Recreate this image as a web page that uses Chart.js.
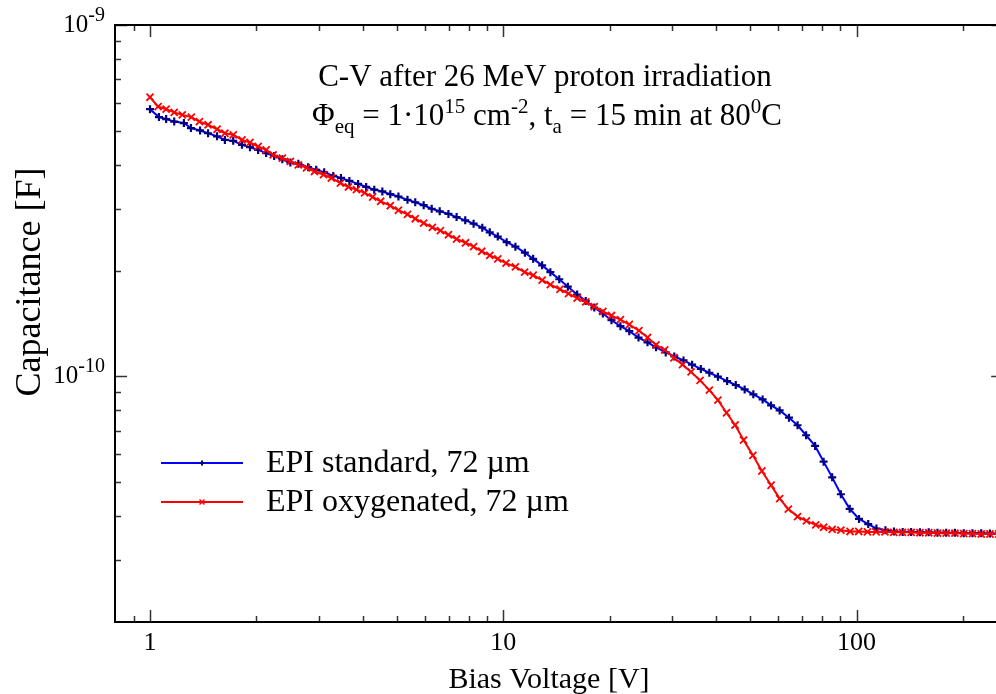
<!DOCTYPE html>
<html>
<head>
<meta charset="utf-8">
<script src="https://cdn.jsdelivr.net/npm/chart.js@4.4.1/dist/chart.umd.min.js"></script>
<style>
  html, body { margin: 0; padding: 0; overflow: hidden; background: #fff; }
  canvas { display: block; }
</style>
</head>
<body>
<canvas id="cvChart" width="1010" height="694"></canvas>
<script>
// bias voltage [V] and capacitance [pF]
const stdVoltage = [1.000,1.060,1.111,1.171,1.247,1.306,1.386,1.460,1.548,1.629,
  1.720,1.821,1.919,2.023,2.132,2.246,2.369,2.496,2.630,2.802,
  2.954,3.112,3.302,3.472,3.667,3.882,4.091,4.313,4.546,4.788,
  5.049,5.355,5.633,5.951,6.271,6.607,6.994,7.375,7.804,8.240,
  8.720,9.155,9.647,10.22,10.82,11.51,12.15,12.88,13.59,14.40,
  15.23,16.18,17.11,18.09,19.13,20.24,21.46,22.73,24.14,25.60,
  27.06,28.83,30.48,32.37,34.22,36.23,38.30,40.50,43.01,45.50,
  48.21,51.02,54.19,57.28,60.56,64.35,68.07,71.97,76.30,80.66,
  85.29,90.25,95.6,101.6,107.9,113.8,120.7,127.6,135.0,
  142.7,151.1,160.0,169.4,179.3,189.8,201.0,212.8,225.3,238.5,252.5];
const stdCap = [576,547,540,531,526,509,501,492,482,471,
  468,456,449,441,432,424,415,406,403,394,
  387,381,372,367,360,353,346,340,336,330,
  325,318,313,307,300,295,290,284,278,272,
  265,257,250,241,234,225,216,207,198,189,
  180,171,164,157,151,144.5,139,134.5,129,125,
  121,117,114,111,108,105,102.4,99.8,97.0,94.5,
  91.8,88.9,86.0,82.7,80.0,76.3,72.6,68.0,63.4,57.2,
  51.6,46.2,42.0,39.3,38.0,36.9,36.5,36.2,36.1,
  36.1,36.0,36.0,35.9,35.9,35.9,35.8,35.8,35.8,35.7,35.7];

const oxyVoltage = [1.000,1.054,1.111,1.171,1.234,1.309,1.380,1.460,1.548,1.629,
  1.720,1.821,1.919,2.023,2.132,2.232,2.369,2.496,2.630,2.773,
  2.922,3.098,3.261,3.459,3.645,3.840,4.050,4.267,4.497,4.788,
  5.049,5.355,5.633,5.951,6.298,6.637,6.994,7.375,7.820,8.240,
  8.688,9.155,9.647,10.18,10.82,11.49,12.15,12.88,13.59,14.47,
  15.30,16.18,17.11,18.09,19.13,20.24,21.46,22.73,24.21,25.60,
  27.06,28.63,30.42,32.16,34.00,36.06,38.30,40.50,42.84,45.29,
  47.87,50.88,53.94,57.28,60.56,64.09,68.07,72.11,76.63,80.66,
  85.29,90.25,95.85,101.4,107.3,113.6,120.3,127.4,134.8,142.7,
  151.1,160.0,169.4,179.3,189.8,201.0,212.8,225.3,238.5,252.5];
const oxyCap = [623,586,576,564,555,547,531,520,505,492,
  487,471,463,451,441,427,418,409,400,392,
  383,375,367,355,346,340,333,324,315,306,
  297,289,281,273,265.5,260,253,246,240,234,
  227,221,216,210,205,198,194,188,182.5,177,
  172,167,163,158,153,149,145,140.5,135,129,
  123,119,113,108,103,97.4,91.4,85.6,78.8,72.7,
  65.9,59.6,53.8,49.0,44.9,41.9,39.9,38.8,37.8,37.2,
  36.7,36.5,36.2,36.2,36.1,36.1,36.1,36.0,36.0,36.0,
  35.9,35.9,35.8,35.8,35.8,35.7,35.7,35.6,35.6,35.6];

const seriesNames = ['EPI standard, 72 \u00b5m', 'EPI oxygenated, 72 \u00b5m'];

const xMajorTicks = [1, 10, 100];
const xMinorTicks = [0.9, 2, 3, 4, 5, 6, 7, 8, 9, 20, 30, 40, 50, 60, 70, 80, 90, 200];
const yMajorTicks = [1e-10, 1e-9];
const yMajorLabels = ['-10', '-9'];
const yMinorTicks = [3e-11, 4e-11, 5e-11, 6e-11, 7e-11, 8e-11, 9e-11,
  2e-10, 3e-10, 4e-10, 5e-10, 6e-10, 7e-10, 8e-10, 9e-10];

const SERIF = '"Liberation Serif", "Times New Roman", serif';

function toPoints(vs, cs) {
  return vs.map((v, i) => ({ x: v, y: cs[i] * 1e-12 }));
}

// draws text pieces with sub/superscripts, centred or left/right aligned
function drawRuns(ctx, runs, x, y, align) {
  let total = 0;
  runs.forEach(r => {
    ctx.font = r[1] + 'px ' + SERIF;
    total += ctx.measureText(r[0]).width;
  });
  let cx = align === 'center' ? x - total / 2 : (align === 'right' ? x - total : x);
  ctx.textAlign = 'left';
  ctx.textBaseline = 'alphabetic';
  runs.forEach(r => {
    ctx.font = r[1] + 'px ' + SERIF;
    ctx.fillText(r[0], cx, y + (r[2] || 0));
    cx += ctx.measureText(r[0]).width;
  });
}

function drawMarker(ctx, style, x, y, r, color, w) {
  ctx.strokeStyle = color;
  ctx.lineWidth = w;
  ctx.beginPath();
  if (style === 'cross') {
    ctx.moveTo(x - r, y); ctx.lineTo(x + r, y);
    ctx.moveTo(x, y - r); ctx.lineTo(x, y + r);
  } else {
    ctx.moveTo(x - r, y - r); ctx.lineTo(x + r, y + r);
    ctx.moveTo(x - r, y + r); ctx.lineTo(x + r, y - r);
  }
  ctx.stroke();
}

const framePlugin = {
  id: 'frame',
  afterDraw(chart) {
    const { ctx, chartArea: a, scales } = chart;
    const sx = scales.x, sy = scales.y;
    ctx.save();

    // inward ticks on all four sides
    ctx.strokeStyle = '#333';
    ctx.lineWidth = 1.5;
    const tick = (x1, y1, x2, y2) => { ctx.beginPath(); ctx.moveTo(x1, y1); ctx.lineTo(x2, y2); ctx.stroke(); };
    xMajorTicks.concat(xMinorTicks).forEach(v => {
      const px = Math.round(sx.getPixelForValue(v)) + 0.5;
      const len = xMajorTicks.includes(v) ? 12 : 6;
      tick(px, a.bottom, px, a.bottom - len);
      tick(px, a.top, px, a.top + len);
    });
    yMajorTicks.concat(yMinorTicks).forEach(v => {
      const py = Math.round(sy.getPixelForValue(v)) + 0.5;
      const len = yMajorTicks.includes(v) ? 12 : 6;
      tick(a.left, py, a.left + len, py);
      tick(a.right, py, a.right - len, py);
    });

    // frame
    ctx.strokeStyle = '#000';
    ctx.lineWidth = 2;
    ctx.strokeRect(a.left, a.top, a.right - a.left, a.bottom - a.top);

    ctx.fillStyle = '#000';
    // y tick labels 10^n
    yMajorTicks.forEach((v, i) => {
      const py = sy.getPixelForValue(v);
      drawRuns(ctx, [['10', 25, 0], [yMajorLabels[i], 20, -11]], 105, py + 7, 'right');
    });

    // axis titles
    ctx.font = '30px ' + SERIF;
    ctx.textAlign = 'center';
    ctx.textBaseline = 'alphabetic';
    ctx.fillText('Bias Voltage [V]', 549, 688);
    ctx.save();
    ctx.font = '36px ' + SERIF;
    ctx.translate(40, 282);
    ctx.rotate(-Math.PI / 2);
    ctx.fillText('Capacitance [F]', 0, 0);
    ctx.restore();

    // title inside the plot
    drawRuns(ctx, [['C-V after 26 MeV proton irradiation', 31, 0]], 545, 86, 'center');
    drawRuns(ctx, [
      ['\u03a6', 31, 0], ['eq', 21, 8], [' = 1\u00b710', 31, 0], ['15', 21, -12],
      [' cm', 31, 0], ['-2', 21, -12], [', t', 31, 0], ['a', 21, 8],
      [' = 15 min at 80', 31, 0], ['0', 21, -12], ['C', 31, 0]
    ], 547, 125, 'center');

    // legend
    const legend = [
      { y: 463, line: '#0000ff', mk: '#000080', style: 'cross', w: 2 },
      { y: 502, line: '#ff0000', mk: '#ff0000', style: 'crossRot', w: 1.5 }
    ];
    legend.forEach((l, i) => {
      ctx.strokeStyle = l.line;
      ctx.lineWidth = 1.8;
      tick(161, l.y, 243, l.y);
      drawMarker(ctx, l.style, 202, l.y, 2.5, l.mk, l.w);
      ctx.fillStyle = '#000';
      drawRuns(ctx, [[seriesNames[i], 32, 0]], 266, l.y + 9, 'left');
    });

    ctx.restore();
  }
};

const ctx = document.getElementById('cvChart').getContext('2d');
new Chart(ctx, {
  type: 'line',
  data: {
    datasets: [{
      label: seriesNames[0],
      data: toPoints(stdVoltage, stdCap),
      borderColor: '#0000ff',
      borderWidth: 2,
      pointStyle: 'cross',
      pointRadius: 4,
      pointBorderColor: '#000080',
      pointBorderWidth: 2.2,
      tension: 0,
      order: 1
    }, {
      label: seriesNames[1],
      data: toPoints(oxyVoltage, oxyCap),
      borderColor: '#ff0000',
      borderWidth: 2,
      pointStyle: 'crossRot',
      pointRadius: 5,
      pointBorderColor: '#ff0000',
      pointBorderWidth: 1.8,
      tension: 0,
      order: 0
    }]
  },
  options: {
    responsive: false,
    animation: false,
    layout: { padding: { top: 25, right: 5, left: 0, bottom: 0 } },
    plugins: { legend: { display: false }, tooltip: { enabled: false } },
    scales: {
      x: {
        type: 'logarithmic',
        min: 0.796,
        max: 260,
        grid: { display: false, drawTicks: false },
        border: { display: false },
        afterBuildTicks: s => { s.ticks = xMajorTicks.map(v => ({ value: v })); },
        afterFit: s => { s.height = 72; },
        ticks: {
          autoSkip: false,
          maxRotation: 0,
          padding: 6,
          color: '#000',
          font: { family: SERIF, size: 26 },
          callback: v => String(v)
        }
      },
      y: {
        type: 'logarithmic',
        min: 2e-11,
        max: 1e-9,
        grid: { display: false, drawTicks: false },
        border: { display: false },
        afterFit: s => { s.width = 115; },
        ticks: { display: false }
      }
    }
  },
  plugins: [framePlugin]
});
</script>
</body>
</html>
